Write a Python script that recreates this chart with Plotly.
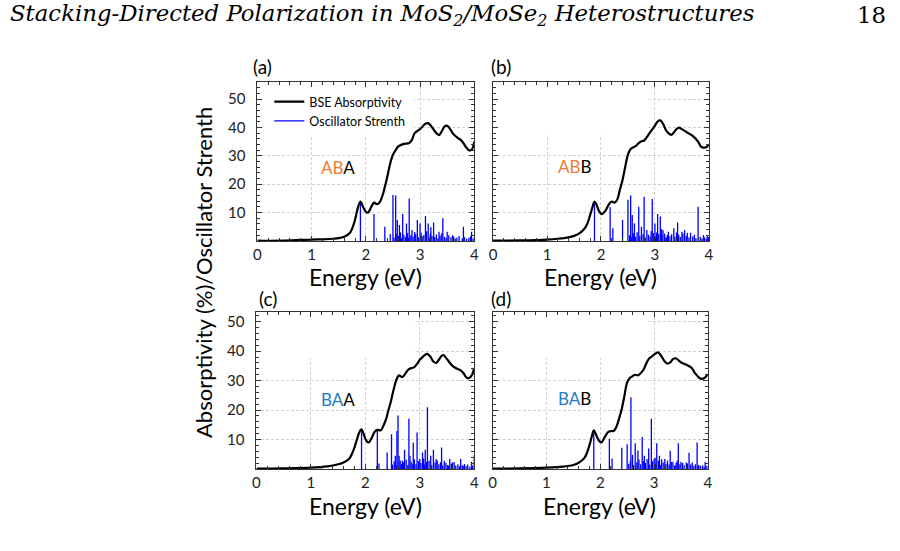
import plotly.graph_objects as go

# ---------------- data ----------------
# BSE absorptivity curves (energy in eV, absorptivity in %)
energy_a = [0, 0.5, 1.0, 1.2, 1.4, 1.5, 1.6, 1.7, 1.75, 1.8, 1.85, 1.9, 1.95, 2.0, 2.04, 2.1, 2.15, 2.2, 2.25,
            2.3, 2.35, 2.4, 2.45, 2.5, 2.55, 2.6, 2.7, 2.8, 2.85, 2.9, 3.0, 3.1, 3.15, 3.2, 3.3, 3.35, 3.4,
            3.45, 3.5, 3.55, 3.6, 3.7, 3.75, 3.8, 3.85, 3.9, 3.95, 4.0]
absorb_a = [0.1, 0.15, 0.5, 0.6, 0.8, 1.0, 1.5, 2.7, 4.5, 7.4, 11.5, 13.9, 12.0, 10.3, 10.0, 12.0, 13.5, 13.0, 13.5,
            15.6, 19.0, 23.0, 27.4, 30.4, 32.0, 33.3, 34.2, 34.5, 35.6, 38.0, 39.4, 41.3, 41.5, 40.6, 38.0, 37.3, 38.6,
            40.3, 40.6, 39.6, 38.0, 36.2, 35.6, 34.5, 33.0, 32.0, 32.1, 35.0]

energy_b = [0, 0.5, 1.0, 1.2, 1.4, 1.5, 1.6, 1.7, 1.75, 1.8, 1.85, 1.88, 1.92, 1.97, 2.02, 2.08, 2.15, 2.2, 2.25,
            2.3, 2.35, 2.4, 2.45, 2.5, 2.55, 2.6, 2.65, 2.7, 2.75, 2.8, 2.85, 2.9, 3.0, 3.05, 3.1, 3.15, 3.2,
            3.25, 3.3, 3.35, 3.4, 3.45, 3.5, 3.6, 3.7, 3.8, 3.85, 3.9, 3.95, 4.0]
absorb_b = [0.1, 0.2, 0.5, 0.8, 1.3, 1.8, 2.7, 4.5, 6.2, 9.2, 12.4, 13.9, 12.7, 10.3, 9.5, 10.6, 13.0, 13.9, 13.5,
            14.5, 18.0, 21.5, 26.2, 30.4, 32.4, 33.0, 33.5, 34.5, 35.1, 35.4, 36.6, 38.0, 40.6, 42.1, 42.5, 41.3, 39.2,
            38.0, 37.4, 38.2, 39.4, 39.9, 39.4, 38.2, 37.0, 35.0, 33.3, 32.9, 33.0, 34.0]

energy_c = [0, 0.5, 1.0, 1.3, 1.5, 1.6, 1.7, 1.75, 1.8, 1.85, 1.9, 1.93, 1.97, 2.02, 2.06, 2.12, 2.17, 2.22, 2.28,
            2.33, 2.38, 2.42, 2.47, 2.52, 2.57, 2.62, 2.67, 2.7, 2.75, 2.8, 2.9, 2.95, 3.0, 3.05, 3.1, 3.14, 3.2,
            3.25, 3.3, 3.35, 3.4, 3.43, 3.5, 3.6, 3.7, 3.75, 3.8, 3.85, 3.9, 3.95, 4.0]
absorb_c = [0.1, 0.2, 0.45, 0.9, 1.6, 2.2, 3.4, 5.0, 7.3, 10.3, 12.9, 13.5, 11.8, 9.6, 9.0, 10.7, 12.6, 13.3, 13.1,
            14.6, 16.9, 19.7, 23.0, 27.0, 30.3, 31.8, 31.2, 31.5, 32.8, 33.9, 34.6, 35.7, 37.1, 38.0, 38.8, 39.1, 38.0,
            36.5, 36.0, 37.1, 38.4, 38.7, 37.3, 35.0, 33.9, 33.5, 32.6, 31.2, 30.8, 31.7, 34.3]

energy_d = [0, 0.5, 1.0, 1.3, 1.5, 1.6, 1.7, 1.75, 1.8, 1.85, 1.88, 1.92, 1.97, 2.02, 2.08, 2.15, 2.2, 2.25, 2.3,
            2.35, 2.4, 2.45, 2.5, 2.55, 2.6, 2.65, 2.7, 2.75, 2.8, 2.85, 2.9, 2.95, 3.0, 3.07, 3.1, 3.15, 3.2,
            3.25, 3.3, 3.35, 3.4, 3.45, 3.5, 3.6, 3.7, 3.75, 3.8, 3.85, 3.9, 3.95, 4.0]
absorb_d = [0.1, 0.2, 0.45, 0.8, 1.35, 2.1, 3.6, 5.3, 8.1, 11.5, 13.1, 11.8, 9.8, 9.0, 10.7, 12.6, 12.9, 12.9, 14.3,
            17.1, 20.4, 24.9, 29.4, 30.9, 31.5, 32.0, 31.8, 32.5, 33.6, 35.6, 37.3, 38.1, 38.8, 39.6, 39.2, 37.9, 36.5,
            35.8, 36.2, 37.3, 37.6, 37.0, 36.2, 35.4, 34.3, 32.8, 31.7, 30.8, 30.6, 31.1, 32.2]

# Oscillator strengths: main peaks
osc_e_a = [1.9, 2.15, 2.35, 2.45, 2.5, 2.55, 2.58, 2.62, 2.68, 2.75, 2.8, 2.85, 2.95, 3.0, 3.1, 3.15, 3.2, 3.25,
           3.35, 3.42, 3.5, 3.6, 3.8, 3.95]
osc_h_a = [13.9, 9.5, 5.0, 2.5, 16.2, 16.0, 7.4, 5.6, 9.5, 6.2, 15.0, 3.9, 7.4, 6.2, 8.8, 6.2, 4.8, 6.5,
           3.3, 8.0, 3.3, 2.0, 5.0, 3.3]
osc_e_b = [1.88, 2.17, 2.22, 2.4, 2.5, 2.55, 2.58, 2.62, 2.7, 2.75, 2.8, 2.85, 2.95, 3.0, 3.05, 3.1, 3.15, 3.25,
           3.35, 3.42, 3.5, 3.55, 3.6, 3.8, 3.9, 3.97]
osc_h_b = [13.9, 11.9, 4.5, 7.4, 14.5, 16.0, 9.2, 6.2, 12.1, 5.0, 15.6, 3.9, 14.8, 6.2, 9.5, 8.6, 3.9, 3.3,
           4.5, 6.5, 3.3, 3.9, 2.9, 12.1, 2.1, 1.8]
osc_e_c = [1.93, 2.22, 2.25, 2.4, 2.48, 2.55, 2.58, 2.6, 2.62, 2.68, 2.72, 2.8, 2.82, 2.88, 2.95, 3.0, 3.05, 3.1,
           3.14, 3.2, 3.25, 3.3, 3.4, 3.45, 3.55, 3.6, 3.75, 3.82, 3.95, 4.0]
osc_h_c = [13.5, 12.9, 1.9, 5.6, 11.8, 4.5, 12.9, 18.2, 4.5, 2.8, 6.5, 17.1, 4.5, 9.0, 12.4, 3.4, 5.6, 6.5,
           21.0, 4.5, 6.5, 3.4, 7.3, 2.8, 3.4, 2.2, 3.4, 1.7, 2.5, 4.7]
osc_e_d = [1.88, 2.17, 2.22, 2.4, 2.5, 2.57, 2.6, 2.65, 2.7, 2.78, 2.82, 2.9, 2.95, 3.0, 3.05, 3.1, 3.2, 3.3,
           3.35, 3.45, 3.5, 3.6, 3.65, 3.8, 3.95]
osc_h_d = [13.1, 10.3, 3.6, 7.2, 8.4, 24.4, 4.8, 8.7, 6.3, 10.9, 4.5, 7.0, 17.1, 3.4, 8.7, 4.5, 3.4, 6.2,
           2.5, 8.7, 2.5, 2.2, 5.5, 9.0, 2.5]

# Oscillator strengths: dense weak transitions
weak_e_a = [2.52, 2.56, 2.6, 2.64, 2.66, 2.7, 2.73, 2.77, 2.79, 2.83, 2.87, 2.9, 2.92, 2.97, 3.02, 3.04, 3.07, 3.12,
            3.17, 3.19, 3.22, 3.27, 3.3, 3.33, 3.37, 3.4, 3.45, 3.48, 3.53, 3.57, 3.62, 3.65, 3.68, 3.72, 3.78, 3.82,
            3.86, 3.9, 3.93, 3.98]
weak_h_a = [1.2, 2.5, 1.8, 3.0, 1.0, 2.2, 1.5, 2.8, 1.1, 2.0, 1.6, 3.2, 2.4, 1.3, 2.9, 1.7, 2.1, 3.4, 1.2, 2.6,
            1.8, 1.4, 2.3, 1.0, 1.9, 2.7, 1.5, 1.1, 2.0, 1.3, 1.6, 0.9, 1.2, 1.8, 1.0, 1.4, 0.8, 1.1, 1.7, 0.9]
weak_e_b = [2.53, 2.57, 2.6, 2.64, 2.67, 2.72, 2.78, 2.82, 2.88, 2.91, 2.93, 2.97, 3.01, 3.03, 3.07, 3.12, 3.13,
            3.18, 3.21, 3.23, 3.28, 3.31, 3.37, 3.4, 3.44, 3.47, 3.52, 3.58, 3.63, 3.66, 3.7, 3.73, 3.76, 3.84,
            3.87, 3.92, 3.95, 3.99]
weak_h_b = [2.0, 1.3, 2.7, 1.5, 3.1, 1.8, 2.4, 1.2, 2.2, 1.6, 3.5, 2.8, 1.4, 3.0, 2.5, 4.2, 1.9, 2.6, 1.3, 2.1,
            1.7, 2.4, 1.5, 3.0, 2.2, 1.4, 2.6, 1.8, 1.2, 2.9, 1.6, 2.2, 1.1, 1.5, 0.9, 1.3, 0.8, 1.4]
weak_e_c = [2.5, 2.53, 2.57, 2.64, 2.66, 2.7, 2.75, 2.78, 2.84, 2.86, 2.9, 2.93, 2.98, 3.02, 3.07, 3.09, 3.12, 3.17,
            3.22, 3.28, 3.32, 3.35, 3.38, 3.42, 3.48, 3.51, 3.53, 3.58, 3.63, 3.66, 3.7, 3.73, 3.78, 3.85, 3.88,
            3.92, 3.97]
weak_h_c = [1.5, 2.6, 1.2, 2.9, 1.7, 2.3, 3.1, 1.4, 2.5, 1.8, 3.3, 1.6, 2.7, 2.0, 3.6, 1.5, 2.4, 2.8, 1.3, 2.2,
            2.9, 1.6, 2.3, 1.2, 2.0, 1.4, 1.1, 1.8, 2.4, 1.2, 1.6, 0.9, 1.3, 1.0, 1.5, 0.8, 1.2]
weak_e_d = [2.53, 2.56, 2.62, 2.68, 2.72, 2.75, 2.8, 2.84, 2.87, 2.92, 2.97, 3.02, 3.03, 3.08, 3.12, 3.14, 3.17,
            3.22, 3.25, 3.28, 3.32, 3.38, 3.41, 3.43, 3.48, 3.53, 3.56, 3.62, 3.68, 3.71, 3.74, 3.77, 3.83, 3.86,
            3.9, 3.93, 3.98]
weak_h_d = [1.8, 2.9, 1.4, 2.3, 3.2, 1.6, 2.7, 2.0, 3.4, 1.5, 2.6, 3.8, 1.9, 2.8, 1.4, 3.3, 2.2, 1.7, 2.9, 1.5,
            2.4, 1.2, 2.1, 2.8, 1.6, 2.0, 1.3, 1.9, 1.5, 2.2, 1.1, 1.6, 1.4, 1.0, 1.3, 0.8, 1.1]

panel_letters = ["(a)", "(b)", "(c)", "(d)"]
stack_prefix = ["AB", "AB", "BA", "BA"]
stack_suffix = ["A", "B", "A", "B"]
x_ticks = [0, 1, 2, 3, 4]
y_ticks = [10, 20, 30, 40, 50]

# ---------------- layout constants ----------------
W, H = 900, 551
ORANGE = "#ED7D31"
BLUE_LBL = "#1F7CC7"
STICK = "#0000FF"
FONT = "Lato"
AXC = "#333333"

# panel boxes in pixels: (left, right, top, bottom)
boxes = [(256, 475, 82, 241), (494, 712, 82, 241), (255, 475, 312, 469), (493.5, 711, 312, 469)]
yranges = [[0, 56], [0, 56], [0, 53.3], [0, 53.3]]
letter_pos = [(261, 66.5), (502, 66.5), (266.5, 298.5), (502, 298.5)]
stack_pos = [(337.7, 167.3), (576.7, 166.7), (337.7, 399), (576.7, 398.3)]
title_pos = [(365.5, 277), (603, 277), (365, 505.5), (602, 505.5)]

curves = [(energy_a, absorb_a), (energy_b, absorb_b), (energy_c, absorb_c), (energy_d, absorb_d)]
peaks = [(osc_e_a, osc_h_a), (osc_e_b, osc_h_b), (osc_e_c, osc_h_c), (osc_e_d, osc_h_d)]
weaks = [(weak_e_a, weak_h_a), (weak_e_b, weak_h_b), (weak_e_c, weak_h_c), (weak_e_d, weak_h_d)]


def px(x):
    return x / W


def py(y):
    return 1 - y / H


fig = go.Figure()
annotations = []
shapes = []

for i in range(4):
    ax = "" if i == 0 else str(i + 1)
    xa, ya = "x" + ax, "y" + ax
    # stick spectrum built from the oscillator strength arrays
    e_all = list(weaks[i][0]) + list(peaks[i][0])
    h_all = list(weaks[i][1]) + list(peaks[i][1])
    sx, sy = [], []
    for e, h in zip(e_all, h_all):
        sx += [e, e, None]
        sy += [0, h, None]
    fig.add_trace(go.Scatter(x=sx, y=sy, mode="lines", line=dict(color=STICK, width=1.3),
                             name="Oscillator Strenth", showlegend=(i == 0), legendrank=2,
                             xaxis=xa, yaxis=ya, hoverinfo="skip"))
    fig.add_trace(go.Scatter(x=curves[i][0], y=curves[i][1], mode="lines", line_shape="spline",
                             line=dict(color="black", width=2.2), name="BSE Absorptivity",
                             showlegend=(i == 0), legendrank=1, xaxis=xa, yaxis=ya))

    l, r, t, b = boxes[i]
    axis_common = dict(showline=True, linecolor=AXC, linewidth=1, mirror="allticks",
                       ticks="inside", ticklen=5, tickcolor=AXC, zeroline=False,
                       showgrid=True, gridcolor="#d2d2d2", griddash="3px,2px", gridwidth=0.8,
                       tickfont=dict(family=FONT, size=15, color="#222222"))
    fig.layout["xaxis" + ax] = dict(domain=[px(l), px(r)], range=[0, 4], anchor=ya,
                                    tickvals=x_ticks,
                                    minor=dict(ticks="inside", ticklen=3, dtick=0.2, tick0=0,
                                               tickcolor=AXC, showgrid=False),
                                    **axis_common)
    fig.layout["yaxis" + ax] = dict(domain=[py(b), py(t)], range=yranges[i], anchor=xa,
                                    tickvals=y_ticks, showticklabels=(i in (0, 2)),
                                    ticklabelstandoff=8,
                                    minor=dict(ticks="inside", ticklen=3, dtick=2, tick0=0,
                                               tickcolor=AXC, showgrid=False),
                                    **axis_common)
    # white area in upper-left (grid hidden behind legend box)
    shapes.append(dict(type="rect", xref=xa, yref=ya, x0=0.01, x1=2.88, y0=37.5,
                       y1=yranges[i][1] - 0.3, fillcolor="white", line=dict(width=0), layer="between"))

    lx, ly = letter_pos[i]
    annotations.append(dict(text=panel_letters[i], x=px(lx), y=py(ly), xref="paper", yref="paper",
                            showarrow=False, xanchor="center", yanchor="middle",
                            font=dict(family=FONT, size=19, color="black")))
    sx_, sy_ = stack_pos[i]
    col = ORANGE if stack_prefix[i] == "AB" else BLUE_LBL
    annotations.append(dict(text=f"<span style='color:{col}'>{stack_prefix[i]}</span>{stack_suffix[i]}",
                            x=px(sx_), y=py(sy_), xref="paper", yref="paper", showarrow=False,
                            xanchor="center", yanchor="middle",
                            font=dict(family=FONT, size=17, color="black")))
    tx, ty = title_pos[i]
    annotations.append(dict(text="Energy (eV)", x=px(tx), y=py(ty), xref="paper", yref="paper",
                            showarrow=False, xanchor="center", yanchor="middle",
                            font=dict(family=FONT, size=23, color="black")))

annotations.append(dict(text="Absorptivity (%)/Oscillator Strenth", x=px(201), y=py(272),
                        xref="paper", yref="paper", showarrow=False, textangle=-90,
                        xanchor="center", yanchor="middle",
                        font=dict(family=FONT, size=22, color="black")))
annotations.append(dict(text="<i>Stacking-Directed Polarization in MoS<sub>2</sub>/MoSe<sub>2</sub> Heterostructures</i>",
                        x=px(4), y=py(15), xref="paper", yref="paper", showarrow=False,
                        xanchor="left", yanchor="middle",
                        font=dict(family="DejaVu Serif", size=22.8, color="black")))
annotations.append(dict(text="18", x=px(893), y=py(15), xref="paper", yref="paper", showarrow=False,
                        xanchor="right", yanchor="middle",
                        font=dict(family="DejaVu Serif", size=22.8, color="black")))

fig.update_layout(
    width=W, height=H, margin=dict(l=0, r=0, t=0, b=0),
    paper_bgcolor="white", plot_bgcolor="white",
    annotations=annotations, shapes=shapes,
    legend=dict(x=px(268), y=py(87), xanchor="left", yanchor="top", bgcolor="rgba(0,0,0,0)",
                font=dict(family=FONT, size=12.5, color="black"), tracegroupgap=0,
                itemwidth=30),
)

fig.write_html("out.html")
